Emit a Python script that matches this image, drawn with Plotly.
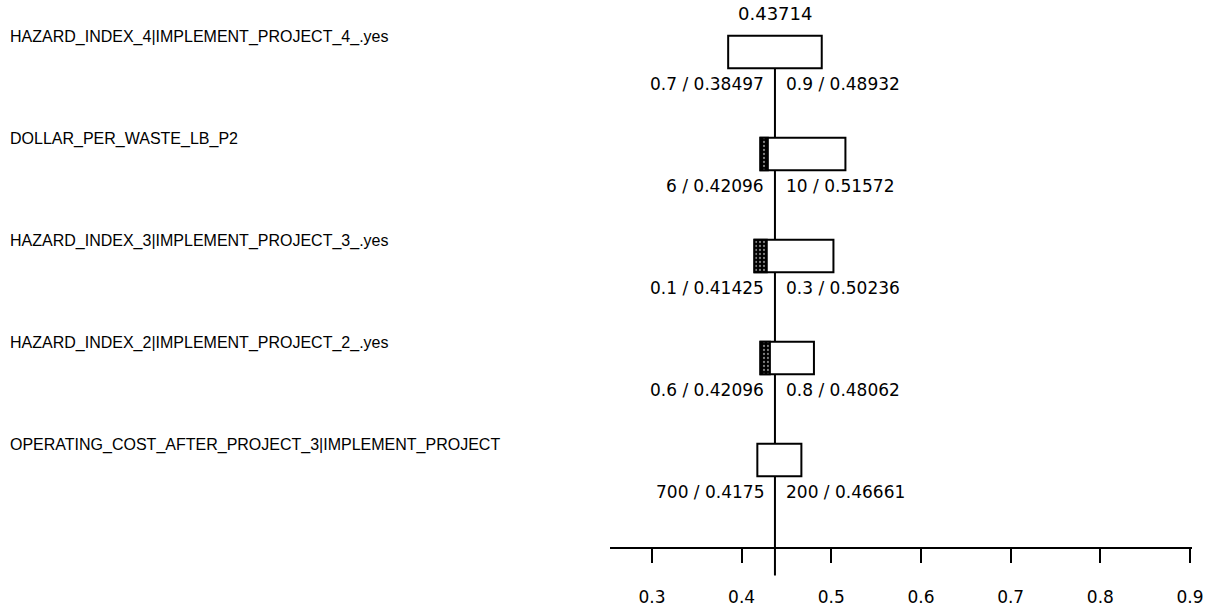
import plotly.graph_objects as go

# ---- data ----
labels = [
    "HAZARD_INDEX_4|IMPLEMENT_PROJECT_4_.yes",
    "DOLLAR_PER_WASTE_LB_P2",
    "HAZARD_INDEX_3|IMPLEMENT_PROJECT_3_.yes",
    "HAZARD_INDEX_2|IMPLEMENT_PROJECT_2_.yes",
    "OPERATING_COST_AFTER_PROJECT_3|IMPLEMENT_PROJECT",
]
low_values = [0.38497, 0.42096, 0.41425, 0.42096, 0.4175]
high_values = [0.48932, 0.51572, 0.50236, 0.48062, 0.46661]
low_settings = ["0.7", "6", "0.1", "0.6", "700"]
high_settings = ["0.9", "10", "0.3", "0.8", "200"]
shade_end = [None, 0.4292, 0.4280, 0.4315, None]
base_value = 0.43714
tick_vals = [0.3, 0.4, 0.5, 0.6, 0.7, 0.8, 0.9]
tick_text = ["0.3", "0.4", "0.5", "0.6", "0.7", "0.8", "0.9"]

NUM_FONT = dict(family="DejaVu Sans", size=17, color="black")
TOP_FONT = dict(family="DejaVu Sans", size=18, color="black")
LAB_FONT = dict(family="Liberation Sans", size=16, color="black")

x_range = [0.2532, 0.9022]
y_range = [4.853, -0.51]
bar_w = 0.32

fig = go.Figure()

fig.add_trace(go.Bar(
    orientation="h",
    y=labels,
    base=low_values,
    x=[h - l for h, l in zip(high_values, low_values)],
    width=bar_w,
    marker=dict(color="white", line=dict(color="black", width=2)),
    hoverinfo="skip",
    showlegend=False,
))

fig.add_trace(go.Bar(
    orientation="h",
    y=labels,
    base=[l if s is not None else None for l, s in zip(low_values, shade_end)],
    x=[(s - l) if s is not None else None for l, s in zip(low_values, shade_end)],
    width=bar_w,
    marker=dict(color="black", line=dict(color="black", width=2),
                pattern=dict(shape=".", fgcolor="white", bgcolor="black", size=4, solidity=0.25)),
    hoverinfo="skip",
    showlegend=False,
))

annotations = []
for i, lab in enumerate(labels):
    annotations.append(dict(
        x=0, xref="paper", xshift=-602, y=lab, yref="y",
        text=lab, showarrow=False, xanchor="left", yshift=15, font=LAB_FONT,
    ))
    annotations.append(dict(
        x=base_value, xref="x", y=lab, yref="y",
        text=f"{low_settings[i]} / {low_values[i]:.5g}", showarrow=False,
        xanchor="right", xshift=-9, yshift=-32, font=NUM_FONT,
    ))
    annotations.append(dict(
        x=base_value, xref="x", y=lab, yref="y",
        text=f"{high_settings[i]} / {high_values[i]:.5g}", showarrow=False,
        xanchor="left", xshift=9, yshift=-32, font=NUM_FONT,
    ))
annotations.append(dict(
    x=base_value, xref="x", y=labels[0], yref="y",
    text=f"{base_value:.5g}", showarrow=False, yshift=39, font=TOP_FONT,
))

y_top_paper = (y_range[0] - (0 + bar_w / 2)) / (y_range[0] - y_range[1])

fig.update_layout(
    width=1215, height=609,
    margin=dict(l=610, r=23, t=0, b=62),
    plot_bgcolor="white", paper_bgcolor="white",
    barmode="overlay",
    showlegend=False,
    xaxis=dict(
        range=x_range, tickvals=tick_vals, ticktext=tick_text,
        showgrid=False, zeroline=False, showline=True, linecolor="black", linewidth=2,
        ticks="outside", ticklen=14, tickwidth=1.5, tickcolor="black",
        tickfont=NUM_FONT, ticklabelstandoff=20,
    ),
    yaxis=dict(
        type="category", categoryorder="array", categoryarray=labels,
        range=y_range, visible=False,
    ),
    shapes=[dict(
        type="line", xref="x", yref="paper",
        x0=base_value, x1=base_value, y0=y_top_paper, y1=-0.052,
        line=dict(color="black", width=2), layer="below",
    )],
    annotations=annotations,
)

fig.write_html(
    "out.html",
    config={"displayModeBar": False},
    post_script="document.body.style.margin='0';document.body.style.overflow='hidden';",
)
